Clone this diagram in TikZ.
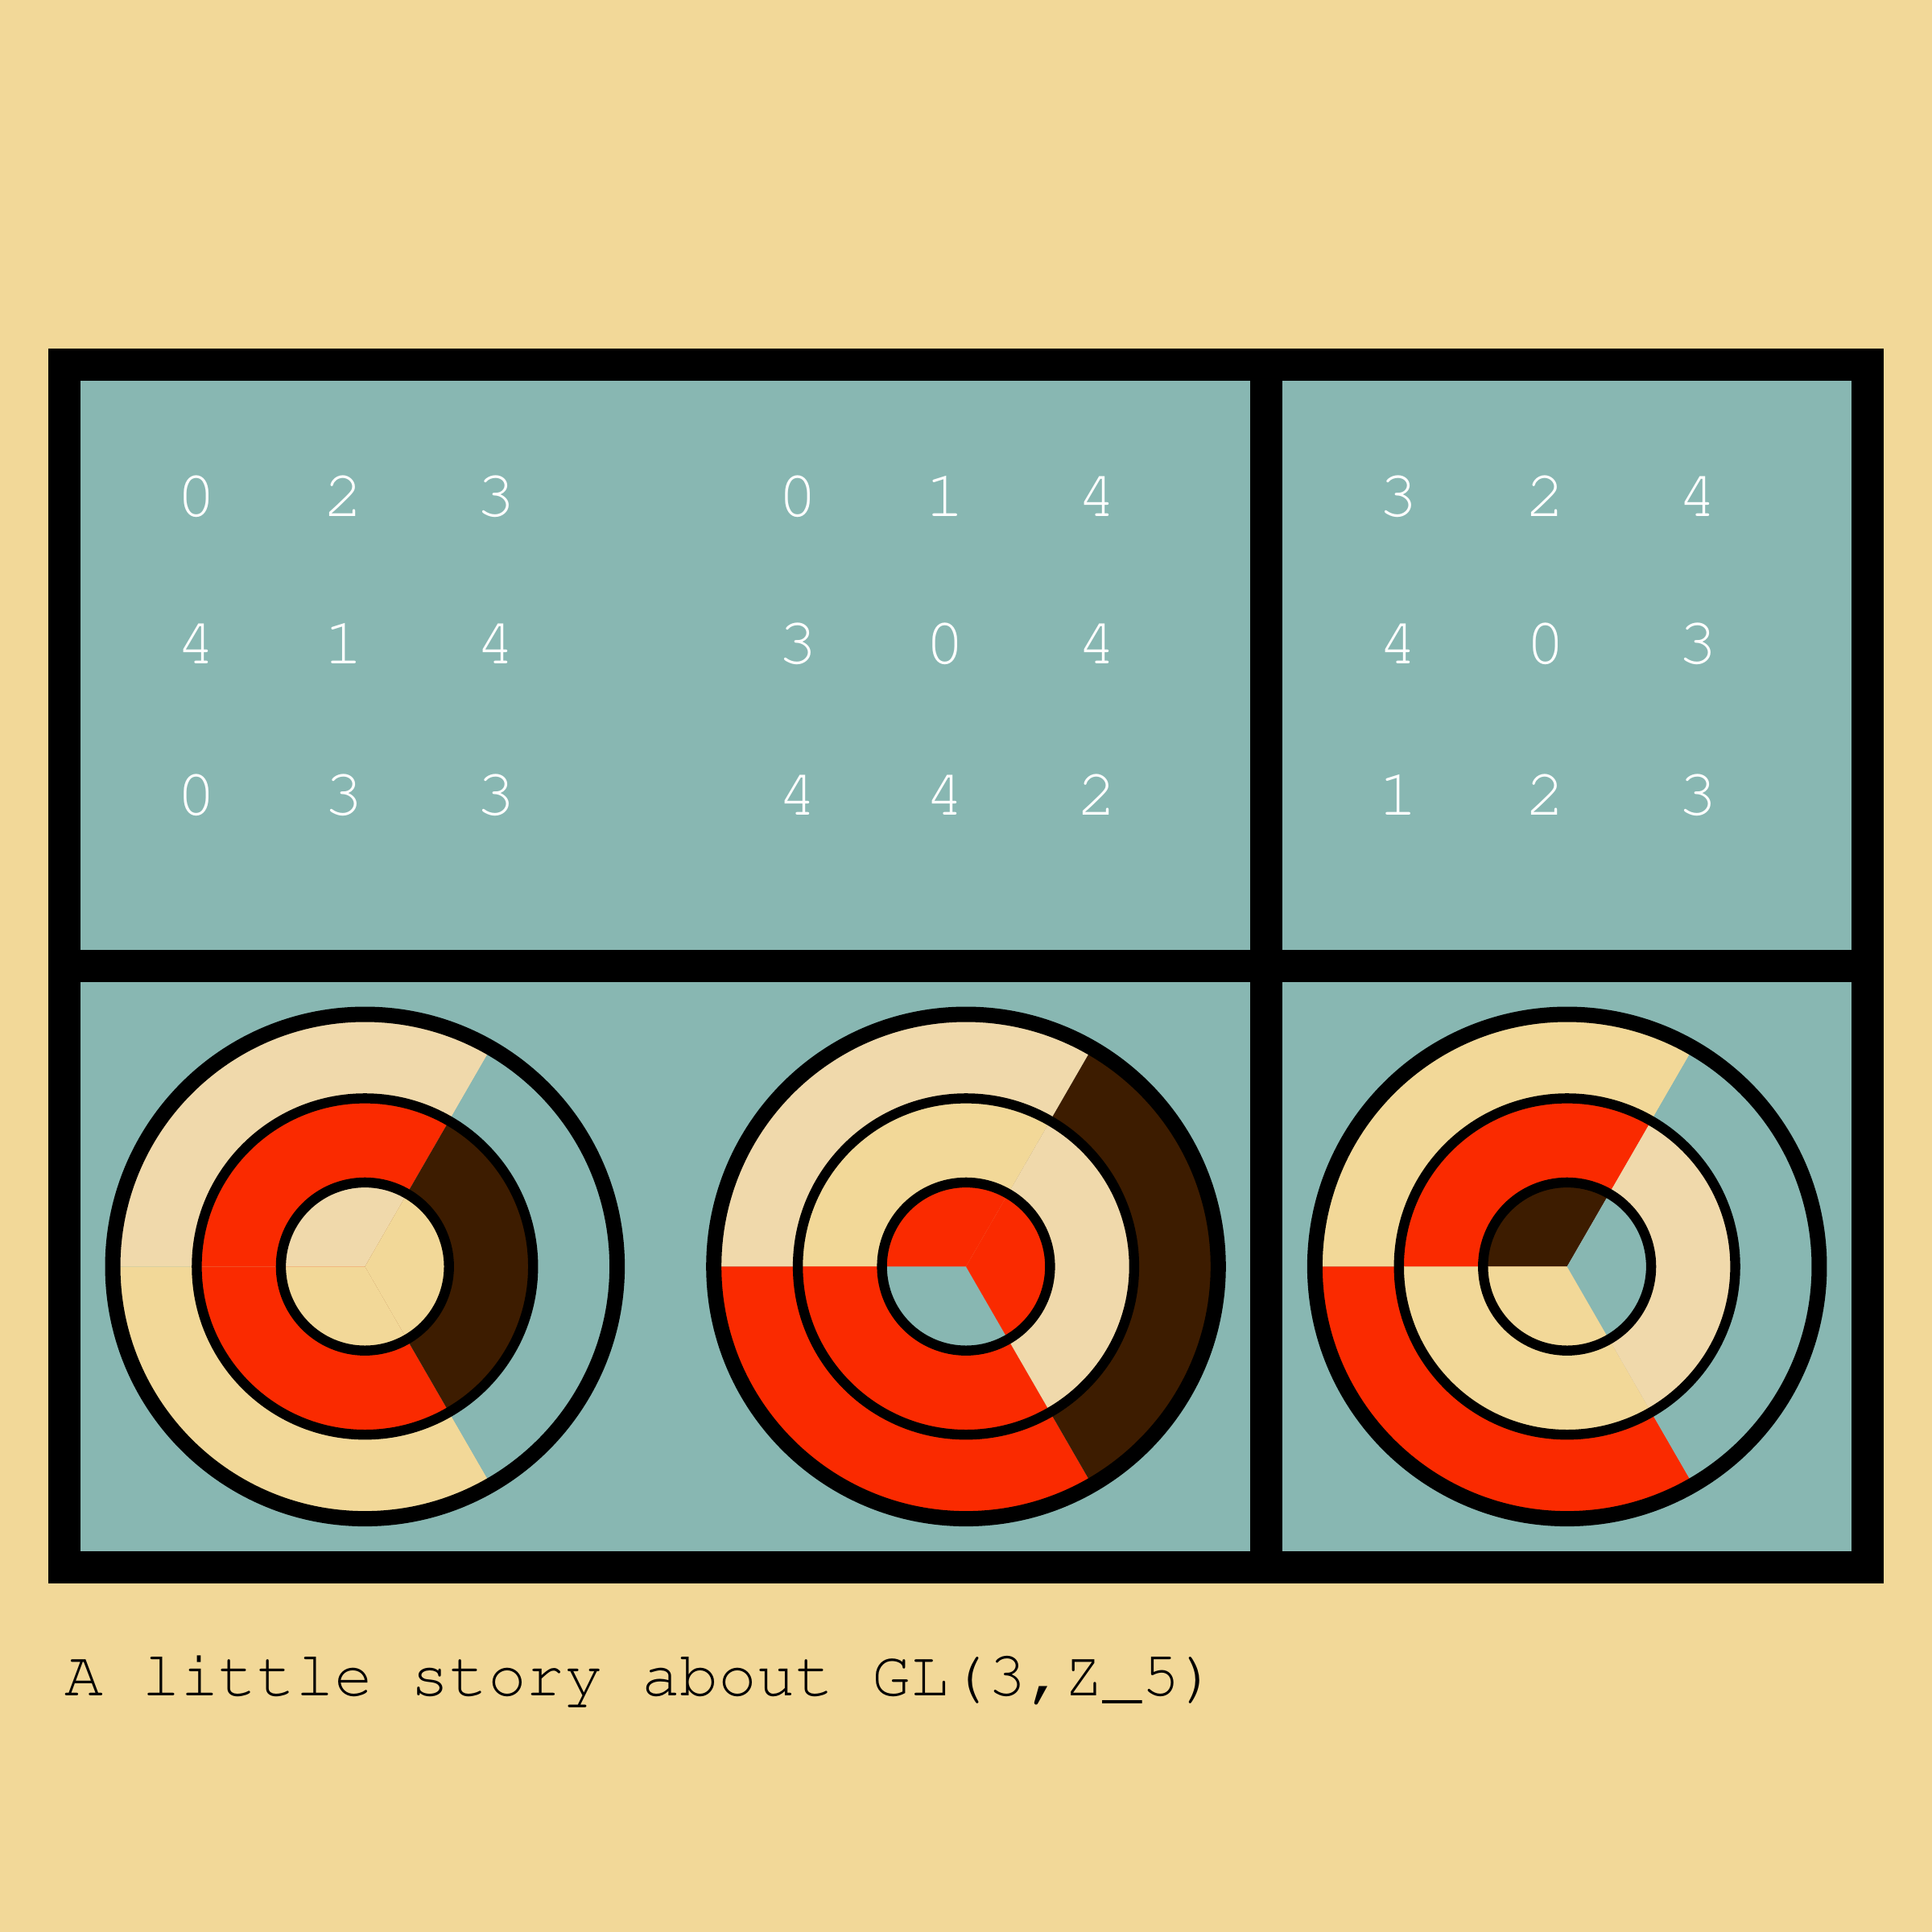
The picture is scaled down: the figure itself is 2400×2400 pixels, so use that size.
\documentclass[tikz,border=0pt]{standalone}
\usepackage[T1,TU]{fontenc}
\usepackage{fontspec}
\newcommand\courfont{\fontencoding{T1}\fontfamily{pcr}\fontseries{m}\fontshape{n}\selectfont}
\definecolor{bgtan}{HTML}{F2D898}
\definecolor{cellteal}{HTML}{88B7B2}
\definecolor{cream}{HTML}{F0D9AB}
\definecolor{ringred}{HTML}{FA2A00}
\definecolor{darkbrown}{HTML}{3D1C00}
\newcommand\sectors[6]{%
  \fill[#4] (#1,#2) -- ++(60:#3) arc[start angle=60,end angle=180,radius=#3] -- cycle;
  \fill[#5] (#1,#2) -- ++(180:#3) arc[start angle=180,end angle=300,radius=#3] -- cycle;
  \fill[#6] (#1,#2) -- ++(300:#3) arc[start angle=300,end angle=420,radius=#3] -- cycle;}
\newcommand\rings[2]{%
  \draw[ringouter] (#1,#2) circle[radius=313.3];
  \draw[ringinner] (#1,#2) circle[radius=208.9];
  \draw[ringinner] (#1,#2) circle[radius=104.4];}
\newcommand\digitrow[6]{%
  \node[digit] (d#1#2a) at ({244+746.667*#1},#3) {#4};
  \node[digit] (d#1#2b) at ({427+746.667*#1},#3) {#5};
  \node[digit] (d#1#2c) at ({616+746.667*#1},#3) {#6};}
\begin{document}
\begin{tikzpicture}[x=0.25pt,y=0.25pt,
  frame/.style={draw=black,line width=10pt},
  ringouter/.style={draw=black,line width=4.75pt},
  ringinner/.style={draw=black,line width=3.1pt},
  digit/.style={anchor=base,inner sep=0pt,text=white,font=\courfont\fontsize{20.5}{24}\selectfont},
  captionstyle/.style={anchor=base west,inner sep=0pt,text=black,font=\courfont\fontsize{19.9}{24}\selectfont}]
\useasboundingbox (0,0) rectangle (2400,2400);
\fill[bgtan] (0,0) rectangle (2400,2400);
\fill[cellteal] (80,453.33) rectangle (2320,1946.67);
% diagram 1
\sectors{453.33}{826.67}{313.3}{cream}{bgtan}{cellteal}
\sectors{453.33}{826.67}{208.9}{ringred}{ringred}{darkbrown}
\sectors{453.33}{826.67}{104.4}{cream}{bgtan}{bgtan}
\rings{453.33}{826.67}
% diagram 2
\sectors{1200}{826.67}{313.3}{cream}{ringred}{darkbrown}
\sectors{1200}{826.67}{208.9}{bgtan}{ringred}{cream}
\sectors{1200}{826.67}{104.4}{ringred}{cellteal}{ringred}
\rings{1200}{826.67}
% diagram 3
\sectors{1946.67}{826.67}{313.3}{bgtan}{ringred}{cellteal}
\sectors{1946.67}{826.67}{208.9}{ringred}{bgtan}{cream}
\sectors{1946.67}{826.67}{104.4}{darkbrown}{bgtan}{cellteal}
\rings{1946.67}{826.67}
% frame
\draw[frame] (80,453.33) rectangle (2320,1946.67);
\draw[frame] (1573.33,453.33) -- (1573.33,1946.67);
\draw[frame] (80,1200) -- (2320,1200);
% matrices
\digitrow{0}{1}{1758}{0}{2}{3}
\digitrow{0}{2}{1575}{4}{1}{4}
\digitrow{0}{3}{1387}{0}{3}{3}
\digitrow{1}{1}{1758}{0}{1}{4}
\digitrow{1}{2}{1575}{3}{0}{4}
\digitrow{1}{3}{1387}{4}{4}{2}
\digitrow{2}{1}{1758}{3}{2}{4}
\digitrow{2}{2}{1575}{4}{0}{3}
\digitrow{2}{3}{1387}{1}{2}{3}
% caption
\node[captionstyle] (caption) at (80,293) {A little story about GL(3,Z\_5)};
\end{tikzpicture}
\end{document}
